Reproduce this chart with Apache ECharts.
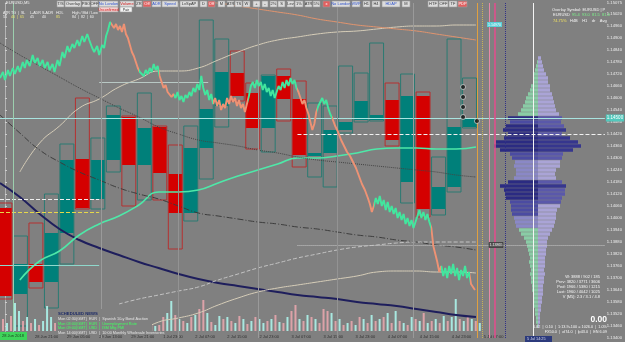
<!DOCTYPE html>
<html>
<head>
<meta charset="utf-8">
<script src="https://cdn.jsdelivr.net/npm/echarts/dist/echarts.min.js"></script>
<style>
html,body{margin:0;padding:0;background:#808080;}
#chart{width:625px;height:342px;}
</style>
</head>
<body>
<div id="chart"></div>
<script>
// higher timeframe overlay candles
var htfOpen  = [1.14050,1.13620,1.13770,1.13680,1.13925,1.14295,1.14095,1.14290,1.14505,1.14265,1.14455,1.14220,1.14025,1.14350,1.14560,1.14725,1.14625,1.14450,1.14710,1.14595,1.14310,1.14325,1.14440,1.14490,1.14490,1.14590,1.14180,1.14610,1.14045,1.14155,1.14455];
var htfClose = [1.13610,1.13770,1.13680,1.13925,1.14290,1.14050,1.14290,1.14515,1.14265,1.14450,1.14225,1.14025,1.14350,1.14545,1.14730,1.14610,1.14450,1.14710,1.14595,1.14315,1.14325,1.14440,1.14480,1.14585,1.14515,1.14390,1.14610,1.14045,1.14155,1.14455,1.14500];
var htfHigh  = [1.14075,1.13910,1.13975,1.14120,1.14370,1.14600,1.14400,1.14560,1.14510,1.14625,1.14460,1.14365,1.14460,1.14990,1.14895,1.14835,1.14675,1.14715,1.14745,1.14685,1.14575,1.14560,1.14760,1.14725,1.14875,1.14675,1.14720,1.14630,1.14305,1.14895,1.14700];
var htfLow   = [1.13595,1.13460,1.13650,1.13550,1.13770,1.14045,1.14045,1.14230,1.14060,1.14090,1.14090,1.13845,1.13985,1.14195,1.14455,1.14585,1.14345,1.14330,1.14485,1.14255,1.14205,1.14155,1.14425,1.14480,1.14485,1.14360,1.14075,1.14005,1.14015,1.14130,1.14450];

// intraday price (bar number, price)
var intraTime = [0,3,5,8,10,13,15,18,20,23,25,27,30,33,35,38,40,43,45,48,50,53,55,58,60,63,65,68,70,73,75,78,80,83,85,88,90,93,95,98,100,103,105,107,109,111,113,115,117,119,121,123,125,127,129,131,133,135,137,139,141,143,145,147,149,151,153,155,157,159,161,163,165,167,169,171,173,175,177,179,181,183,185,187,189,191,193,195,197,199,201,203,205,207,209,211,213,215,217,219,221,223,225,227,229,231,233,235,237,239,241,243,245,247,249,251,253,255,257,259,261,263,265,267,269,271,273,275,277,279,281,283,285,287,289,291,293,295,297,299,301,303,305,307,309,311,313,315,317,319,321,323,325,327,329,331,333,335,338,341,344,347,350,353,356,359,362,365,368,371,373,375,377,379,381,383,385,387,389,391,393,395,397,399,401,403,405,407,409,411,413,415,417,419,421,423,425,427,429,431,433,435,437,439,441,443,445,447,449,451,453,455,457,459,461,463,465,467,469,471,473,475,477,479];
var intraPrice = [1.14700,1.14730,1.14690,1.14740,1.14710,1.14750,1.14720,1.14760,1.14730,1.14780,1.14750,1.14790,1.14760,1.14815,1.14775,1.14800,1.14760,1.14790,1.14750,1.14780,1.14740,1.14770,1.14730,1.14790,1.14760,1.14830,1.14800,1.14860,1.14830,1.14870,1.14850,1.14890,1.14860,1.14910,1.14880,1.14920,1.14890,1.14850,1.14830,1.14860,1.14815,1.14865,1.14850,1.14910,1.14940,1.14980,1.14990,1.14950,1.14970,1.14940,1.14960,1.14930,1.14970,1.14920,1.14900,1.14865,1.14830,1.14810,1.14780,1.14750,1.14730,1.14740,1.14710,1.14740,1.14720,1.14750,1.14730,1.14770,1.14740,1.14760,1.14710,1.14680,1.14650,1.14665,1.14630,1.14640,1.14605,1.14620,1.14600,1.14630,1.14590,1.14610,1.14580,1.14615,1.14600,1.14630,1.14610,1.14650,1.14630,1.14670,1.14640,1.14710,1.14650,1.14615,1.14640,1.14590,1.14620,1.14570,1.14600,1.14560,1.14590,1.14540,1.14570,1.14550,1.14600,1.14570,1.14610,1.14580,1.14600,1.14560,1.14590,1.14550,1.14570,1.14530,1.14570,1.14610,1.14660,1.14680,1.14650,1.14690,1.14660,1.14680,1.14640,1.14670,1.14630,1.14650,1.14610,1.14640,1.14600,1.14630,1.14660,1.14640,1.14680,1.14650,1.14690,1.14660,1.14700,1.14670,1.14690,1.14650,1.14630,1.14600,1.14570,1.14590,1.14550,1.14520,1.14480,1.14440,1.14470,1.14530,1.14560,1.14580,1.14600,1.14570,1.14590,1.14550,1.14520,1.14500,1.14460,1.14430,1.14390,1.14360,1.14330,1.14310,1.14280,1.14250,1.14210,1.14170,1.14140,1.14100,1.14070,1.14030,1.14060,1.14100,1.14070,1.14110,1.14060,1.14090,1.14040,1.14080,1.14030,1.14060,1.14020,1.14050,1.14000,1.14030,1.13990,1.14020,1.13970,1.14000,1.13960,1.13990,1.13950,1.13980,1.14010,1.14040,1.14000,1.14030,1.13990,1.14020,1.13980,1.13950,1.13860,1.13820,1.13780,1.13730,1.13760,1.13710,1.13750,1.13700,1.13760,1.13720,1.13770,1.13710,1.13750,1.13690,1.13740,1.13710,1.13760,1.13700,1.13730,1.13670,1.13660,1.13640];

// indicator lines, sampled at lineTime
var lineTime  = [0,20,40,60,80,100,120,140,160,180,200,220,240,260,280,300,320,340,360,380,400,420,440,460,480];
var maSlow    = [1.14175,1.14105,1.14020,1.13945,1.13890,1.13850,1.13815,1.13780,1.13750,1.13720,1.13695,1.13675,1.13660,1.13645,1.13630,1.13615,1.13605,1.13595,1.13580,1.13570,1.13560,1.13545,1.13530,1.13515,1.13505];
var maFast    = [null,1.13690,1.13785,1.13835,1.13915,1.13970,1.14010,1.14065,1.14130,1.14130,1.14140,1.14175,1.14210,1.14240,1.14270,1.14300,1.14300,1.14310,1.14325,1.14345,1.14350,1.14350,1.14345,1.14345,1.14355];
var bandUpper = [null,1.14230,1.14375,1.14460,1.14550,1.14595,1.14655,1.14695,1.14735,1.14735,1.14750,1.14790,1.14830,1.14865,1.14890,1.14905,1.14920,1.14930,1.14935,1.14945,1.14955,1.14960,1.14960,1.14965,1.14965];
var bandLower = [null,null,null,null,null,null,null,1.13430,1.13480,1.13500,1.13525,1.13565,1.13600,1.13630,1.13650,1.13665,1.13680,1.13695,1.13710,1.13730,1.13735,1.13735,1.13730,1.13730,1.13725];
var maOrange  = [null,null,null,null,null,null,null,null,null,null,1.15085,1.15075,1.15060,1.15045,1.15030,1.15015,1.14995,1.14980,1.14965,1.14955,1.14945,1.14935,1.14920,1.14905,1.14890];
var pivotDash = [1.14515,1.14425,1.14340,1.14280,1.14230,1.14190,1.14150,1.14120,1.14095,1.14060,1.14025,1.14010,1.13995,1.13980,1.13970,1.13955,1.13945,1.13930,1.13915,1.13905,1.13890,1.13880,1.13865,1.13855,1.13840];
var pivotDot  = [1.14875,1.14815,1.14760,1.14705,1.14650,1.14600,1.14550,1.14505,1.14455,1.14420,1.14390,1.14375,1.14360,1.14340,1.14325,1.14305,1.14290,1.14280,1.14270,1.14260,1.14250,1.14240,1.14230,1.14215,1.14205];
var vwapDash  = [null,null,null,null,null,null,1.13570,1.13595,1.13615,1.13635,1.13655,1.13690,1.13720,1.13750,1.13775,1.13800,1.13820,1.13840,1.13855,1.13865,1.13875,1.13880,1.13880,1.13880,1.13880];

// volume profile, 2-pip bins from the top
var profileTop = 1.14800;
var profileStep = 0.0002;
var profSell = [0,1,2,3,4,5,5,7,8,10,12,13,15,17,20,30,28,32,35,30,34,42,44,38,28,26,23,24,22,22,24,30,38,34,33,32,28,27,27,26,24,23,22,19,17,14,12,11,10,9,8,9,8,7,8,7,7,6,6,5,5,5,4,3,3,2,2,1];
var profBuy  = [3,4,5,6,8,10,10,12,12,14,15,16,17,18,21,24,23,26,28,24,32,40,43,35,25,24,22,22,18,17,18,24,28,27,27,24,23,22,19,18,18,17,16,14,12,10,9,9,8,8,7,7,7,6,7,6,6,5,5,5,4,4,3,3,2,2,2,1];

// tick volume, + up bars, - down bars
var volumes = [-12,8,-15,28,20,-10,14,-8,12,-6,10,25,14,-8,6,
 -6,5,-7,6,-5,7,-6,5,-8,6,-5,7,-6,8,-5,6,-7,5,-6,8,-5,6,-7,5,-6,
 -14,18,30,-16,12,-10,8,-14,16,-22,-31,18,-9,6,15,-12,14,-10,8,-15,12,-7,10,-14,12,8,-10,12,-16,9,
 -8,14,-20,-26,12,-10,16,-14,12,-8,-22,-20,18,-10,12,-6,8,-10,6,-14,12,-8,16,-10,12,-14,18,-8,20,-10,
 8,-6,14,-12,10,-18,8,-10,12,-8,15,-10,14,32,-12,10,-14,12,-10,8];
var timeLabels = ['28 Jun 2018','28 Jun 21:00','29 Jun 05:00','29 Jun 13:00','29 Jun 21:00','1 Jul 23:00','2 Jul 07:00','2 Jul 15:00','2 Jul 23:00','3 Jul 07:00','3 Jul 15:00','3 Jul 23:00','4 Jul 07:00','4 Jul 15:00','4 Jul 23:00','5 Jul 07:00'];

// trade markers
var markTime  = [467,467,467,467,481];
var markPrice = [1.14655,1.14605,1.14555,1.14505,1.14485];

var lastPrice = 1.14500;

var TEAL = '#00807a', TEAL_LINE = '#2a7a72', RED = '#d40000', RED_LINE = '#b53030';
var GREEN = '#42e69e', SALMON = '#ee9274';
var FONT = 'Liberation Sans';

var chart = echarts.init(document.getElementById('chart'));

function pairs(xs, ys) {
  return xs.map(function (x, i) { return [x, ys[i]]; });
}
function lineSeries(name, ys, color, width, type) {
  return {
    name: name, type: 'line', xAxisIndex: 1, yAxisIndex: 0, data: pairs(lineTime, ys),
    smooth: true, showSymbol: false, connectNulls: false, z: 3,
    lineStyle: { color: color, width: width, type: type || 'solid' }
  };
}

var slots = [];
for (var s = 0; s < 152; s++) slots.push(s % 8 === 0 && s > 0 ? (timeLabels[s / 8] || '') : '');

var profileData = [];
profSell.forEach(function (v, k) {
  profileData.push([-v, profileTop - k * profileStep, k, 0]);
  profileData.push([profBuy[k], profileTop - k * profileStep, k, 1]);
});

function profColor(v, k, side) {
  var a = Math.abs(v);
  if (side === 0) {
    if (a >= 30) return '#2b2b82';
    if (a >= 26) return '#4b4ba2';
    if (k < 15 || k > 42) return '#8acca6';
    return '#8a88c6';
  }
  if (a >= 28) return '#36368e';
  if (a >= 23) return '#5a58aa';
  return '#aaa4d6';
}

var hLevels = [
  [[0, 1.14500], [610, 1.14500], '#a8e4e0', 'solid'],
  [[300, 1.14420], [610, 1.14420], '#f2f2f2', 'dashed'],
  [[300, 1.13865], [610, 1.13865], '#c8c8c8', 'dotted'],
  [[0, 1.14030], [100, 1.14030], '#e6d84a', 'dashed'],
  [[0, 1.14095], [100, 1.14095], '#eeeeee', 'dashed'],
  [[0, 1.13765], [100, 1.13765], '#8fd8cc', 'solid'],
  [[100, 1.14680], [210, 1.14680], '#b8c8c4', 'solid']
];
var vLevels = [
  [13, '#9ccfae', 'solid', 1], [102, '#9a9a9a', 'solid', 1], [180, '#939393', 'solid', 1],
  [260, '#9a9a9a', 'solid', 1], [340, '#939393', 'solid', 1], [417, '#9a9a9a', 'solid', 1],
  [481, '#e0a040', 'solid', 1], [486, '#c9b452', 'dotted', 1], [493, '#e889a8', 'solid', 1],
  [499, '#df4f8c', 'solid', 1.6], [510, '#303088', 'dotted', 1], [538, '#f4f4f4', 'solid', 1]
];

var markLines = [];
hLevels.forEach(function (h) {
  markLines.push([{ coord: h[0], lineStyle: { color: h[2], type: h[3], width: 1 } }, { coord: h[1] }]);
});
vLevels.forEach(function (v) {
  markLines.push({ xAxis: v[0], lineStyle: { color: v[1], type: v[2], width: v[3] } });
});
markLines[0][0].label = {
  show: true, position: 'end', formatter: lastPrice.toFixed(5), color: '#ffffff',
  backgroundColor: '#52c8bc', fontSize: 4.5, padding: [1, 1], distance: 1, fontFamily: FONT
};

// toolbar buttons [x, width, text, text colour, fill]
var buttons = [
  [57,7,'T/S','#333','#dcdcdc'],[65,16,'Overlay','#333','#dcdcdc'],[82,8,'PBO','#333','#dcdcdc'],[91,7,'OFF','#333','#dcdcdc'],
  [99,19,'No London','#3355cc','#dcdcdc'],[120,14,'Volume','#d02020','#dcdcdc'],[136,6,'ZR','#333','#dcdcdc'],[143,8,'Off','#fff','#e26060'],
  [152,9,'ADR','#3355cc','#dcdcdc'],[162,16,'Speed','#3355cc','#dcdcdc'],[180,18,'LvSpAP','#333','#dcdcdc'],[200,7,'D','#333','#dcdcdc'],
  [208,7,'Off','#fff','#e26060'],[218,7,'M','#333','#dcdcdc'],[227,7,'ATR','#333','#dcdcdc'],[235,7,'TS','#333','#dcdcdc'],
  [243,7,'W','#333','#dcdcdc'],[253,7,'+','#333','#dcdcdc'],[262,6,'-','#333','#dcdcdc'],[270,7,'2%','#333','#dcdcdc'],
  [278,7,'S','#333','#dcdcdc'],[287,7,'Lev','#333','#dcdcdc'],[295,8,'1%','#333','#dcdcdc'],[305,7,'ATR','#333','#dcdcdc'],
  [313,7,'5%','#333','#dcdcdc'],[323,7,'x','#fff','#e26060'],[332,18,'No London','#3355cc','#dcdcdc'],[352,8,'VWP','#3355cc','#dcdcdc'],
  [363,7,'H1','#333','#dcdcdc'],[372,8,'H4','#333','#dcdcdc'],[382,18,'HDAP','#3355cc','#dcdcdc'],[402,8,'M','#333','#dcdcdc'],
  [428,10,'HTF','#333','#dcdcdc'],[439,9,'OFF','#333','#dcdcdc'],[449,8,'TF','#333','#dcdcdc'],[458,9,'PDP','#fff','#e26060']
];
var graphics = [];
buttons.forEach(function (b) {
  graphics.push({ type: 'rect', shape: { x: b[0], y: 1, width: b[1], height: 6 },
    style: { fill: b[4], stroke: '#9c9c9c', lineWidth: 0.6 }, z: 50 });
  graphics.push({ type: 'text', x: b[0] + b[1] / 2, y: 4, z: 51,
    style: { text: b[2], fill: b[3], fontSize: 4, fontFamily: FONT, align: 'center', verticalAlign: 'middle' } });
});
graphics.push({ type: 'rect', shape: { x: 99, y: 7, width: 19, height: 5 }, style: { fill: '#f4d0d0', stroke: '#9c9c9c', lineWidth: 0.6 }, z: 50 });
graphics.push({ type: 'text', x: 108.5, y: 9.6, z: 51, style: { text: 'Unconfirmed', fill: '#d02020', fontSize: 3.6, fontFamily: FONT, align: 'center', verticalAlign: 'middle' } });
graphics.push({ type: 'rect', shape: { x: 120, y: 7, width: 12, height: 5 }, style: { fill: '#f4f4f4', stroke: '#9c9c9c', lineWidth: 0.6 }, z: 50 });
graphics.push({ type: 'text', x: 126, y: 9.6, z: 51, style: { text: 'Pair', fill: '#333', fontSize: 3.6, fontFamily: FONT, align: 'center', verticalAlign: 'middle' } });

function txt(x, y, t, color, size, align, weight) {
  graphics.push({ type: 'text', x: x, y: y, z: 60,
    style: { text: t, fill: color, fontSize: size || 4, fontFamily: FONT, align: align || 'left',
      verticalAlign: 'middle', fontWeight: weight || 'normal' } });
}
txt(6, 3, 'EURUSD,M5', '#f0f0f0', 4);
txt(3, 13, 'ATR', '#f0f0f0', 3.6); txt(11, 13, 'TG  |  SL', '#f0f0f0', 3.6); txt(30, 13, 'L-ADR', '#f0f0f0', 3.6);
txt(42, 13, 'S-ADR', '#f0f0f0', 3.6); txt(56, 13, 'HOL', '#f0f0f0', 3.6); txt(72, 13, 'High / Mid / Low', '#f0f0f0', 3.6);
txt(3, 17, '55', '#f0f0f0', 3.6); txt(11, 17, '40  |  65', '#e8e070', 3.6); txt(30, 17, '45', '#f0f0f0', 3.6);
txt(42, 17, '40', '#f0f0f0', 3.6); txt(56, 17, '85', '#e8e070', 3.6); txt(72, 17, '84  |  82  |  60', '#f0f0f0', 3.6);

txt(552, 10, 'Overlay Symbol: EURUSD | P', '#f4f4f4', 4);
txt(553, 15, 'EURUSD', '#f4f4f4', 4); txt(572, 15, '95.4  93.0  81.5  81.4', '#7cf08a', 4);
txt(553, 21, '74.75%', '#f0e060', 4); txt(570, 21, 'H4B    H1    dr    Avg', '#f4f4f4', 4);

txt(600, 277, 'W: 3888 / 902 / 185', '#f4f4f4', 4, 'right');
txt(600, 282, 'Prev: 3820 / 3771 / 3606', '#f4f4f4', 4, 'right');
txt(600, 287, 'Ped: 1966 / 5380 / 1215', '#f4f4f4', 4, 'right');
txt(600, 292, 'Last: 1960 / 4042 / 1025', '#f4f4f4', 4, 'right');
txt(600, 297, 'V [M5]: 2.3 / 3.1 / 4.8', '#f4f4f4', 4, 'right');
txt(607, 320, '0.00', '#ffffff', 8.5, 'right', 'bold');
txt(607, 327, '0.02  |  0.10  |  1:13.9+100 = 1026.0  |  1.0%', '#f4f4f4', 3.8, 'right');
txt(607, 332, 'FX50.0  |  ol74.0  |  lp43.0  |  EN 6.09', '#f4f4f4', 3.8, 'right');

// scheduled news panel
graphics.push({ type: 'rect', shape: { x: 56, y: 309, width: 96, height: 26 }, style: { fill: '#808080' }, z: 40 });
txt(58, 314, 'SCHEDULED NEWS', '#1c2a66', 4.2, 'left', 'bold');
txt(58, 319, 'Mon 02:30(GMT)  EUR  |  Spanish 10-y Bond Auction', '#e4e4e4', 3.8);
txt(58, 323.5, 'Mon 03:00(GMT)  EUR  |  Unemployment Rate', '#40ff60', 3.8);
txt(58, 328, 'Mon 09:00(GMT)  USD  |  ISM Mfg PMI', '#40ff60', 3.8);
txt(58, 332.5, 'Mon 14:00(GMT)  USD  |  10:00 Monthly Wholesale Inventories', '#e4e4e4', 3.8);

graphics.push({ type: 'rect', shape: { x: 0, y: 332, width: 27, height: 8 }, style: { fill: '#3ed45a' }, z: 45 });
txt(2, 336, timeLabels[0], '#1e3a1e', 4);
graphics.push({ type: 'rect', shape: { x: 525, y: 336, width: 27, height: 6 }, style: { fill: '#2c3a7c' }, z: 45 });
txt(527, 339, '5 Jul 14:25', '#d8dcf0', 3.8);
graphics.push({ type: 'rect', shape: { x: 487, y: 22, width: 15, height: 5 }, style: { fill: '#5cd0d8' }, z: 45 });
txt(494.5, 24.6, '1.14970', '#ffffff', 3.6, 'center');
graphics.push({ type: 'rect', shape: { x: 489, y: 242.5, width: 14, height: 5 }, style: { fill: '#555555', stroke: '#222', lineWidth: 0.5 }, z: 45 });
txt(496, 245, '1.13865', '#f0f0f0', 3.6, 'center');

var option = {
  backgroundColor: '#808080',
  animation: false,
  textStyle: { fontFamily: FONT },
  grid: [
    { left: 0, right: 15, top: 3, bottom: 4 },
    { left: 488, right: 15, top: 3, bottom: 4 },
    { left: 0, right: 15, top: 290, bottom: 11 }
  ],
  xAxis: [
    { type: 'value', gridIndex: 0, min: -0.32, max: 38.74, show: false },
    { type: 'value', gridIndex: 0, min: 0, max: 610, show: false },
    { type: 'value', gridIndex: 1, min: -50, max: 72, show: false },
    { type: 'category', gridIndex: 2, data: slots, boundaryGap: true,
      axisLine: { show: false }, axisTick: { show: false },
      axisLabel: { interval: 0, fontSize: 4, color: '#2e2e2e', margin: 4, fontFamily: FONT, align: 'left' } }
  ],
  yAxis: [
    { type: 'value', gridIndex: 0, position: 'right', min: 1.13400, max: 1.15075, interval: 0.0006,
      axisLine: { show: true, lineStyle: { color: '#b4b4b4' } },
      axisTick: { show: true, length: 2, lineStyle: { color: '#d0d0d0' } },
      splitLine: { show: false },
      axisLabel: { fontSize: 4.2, color: '#ececec', margin: 2, fontFamily: FONT,
        formatter: function (v) { return v.toFixed(5); } } },
    { type: 'value', gridIndex: 1, min: 1.13400, max: 1.15075, show: false },
    { type: 'value', gridIndex: 2, min: 0, max: 41, show: false }
  ],
  visualMap: [{
    type: 'piecewise', show: false, seriesIndex: 1, dimension: 0,
    pieces: [
      { gte: 0, lt: 112, color: GREEN }, { gte: 112, lt: 140, color: SALMON },
      { gte: 140, lt: 160, color: GREEN }, { gte: 160, lt: 175, color: SALMON },
      { gte: 175, lt: 215, color: GREEN }, { gte: 215, lt: 250, color: SALMON },
      { gte: 250, lt: 300, color: GREEN }, { gte: 300, lt: 320, color: SALMON },
      { gte: 320, lt: 335, color: GREEN }, { gte: 335, lt: 377, color: SALMON },
      { gte: 377, lt: 435, color: GREEN }, { gte: 435, lt: 445, color: SALMON },
      { gte: 445, lt: 474, color: GREEN }, { gte: 474, lte: 610, color: SALMON }
    ]
  }],
  series: [
    {
      name: 'HTF', type: 'custom', xAxisIndex: 0, yAxisIndex: 0, z: 2,
      data: htfOpen.map(function (o, i) { return [i, o, htfClose[i], htfLow[i], htfHigh[i]]; }),
      renderItem: function (params, api) {
        var i = api.value(0), o = api.value(1), c = api.value(2), l = api.value(3), h = api.value(4);
        var w = api.size([1, 0])[0] * 0.9;
        var pH = api.coord([i, h]), pL = api.coord([i, l]), pO = api.coord([i, o]), pC = api.coord([i, c]);
        var up = c >= o;
        return { type: 'group', children: [
          { type: 'rect', shape: { x: pH[0] - w / 2, y: Math.min(pO[1], pC[1]), width: w, height: Math.max(1, Math.abs(pO[1] - pC[1])) },
            style: { fill: up ? TEAL : RED } },
          { type: 'rect', shape: { x: pH[0] - w / 2, y: pH[1], width: w, height: pL[1] - pH[1] },
            style: { fill: 'none', stroke: up ? TEAL_LINE : RED_LINE, lineWidth: 1 } }
        ] };
      }
    },
    {
      name: 'Price', type: 'line', xAxisIndex: 1, yAxisIndex: 0, z: 6,
      data: pairs(intraTime, intraPrice), showSymbol: false,
      lineStyle: { width: 1.9 }
    },
    lineSeries('MA slow', maSlow, '#1e1e5c', 2),
    lineSeries('MA fast', maFast, '#4ee8a8', 1.6),
    lineSeries('Band upper', bandUpper, '#d6cdb8', 1),
    lineSeries('Band lower', bandLower, '#d6cdb8', 1),
    lineSeries('MA orange', maOrange, '#e0946e', 1),
    lineSeries('Pivot', pivotDash, '#3c3c3c', 1, [6, 2, 1, 2]),
    lineSeries('Pivot 2', pivotDot, '#444444', 1, 'dotted'),
    lineSeries('VWAP', vwapDash, '#c4c4c4', 1, 'dashed'),
    {
      name: 'Levels', type: 'line', xAxisIndex: 1, yAxisIndex: 0, data: [], z: 1,
      markLine: { symbol: 'none', silent: true, label: { show: false }, data: markLines }
    },
    {
      name: 'Trades', type: 'scatter', xAxisIndex: 1, yAxisIndex: 0, z: 8,
      data: pairs(markTime, markPrice), symbolSize: 5,
      itemStyle: { color: '#141414', borderColor: '#f0f0f0', borderWidth: 0.8 }
    },
    {
      name: 'Profile', type: 'custom', xAxisIndex: 2, yAxisIndex: 1, z: 4,
      data: profileData,
      renderItem: function (params, api) {
        var v = api.value(0), p = api.value(1), k = api.value(2), side = api.value(3);
        var a = api.coord([0, p]), b = api.coord([v, p]);
        var hgt = api.size([0, profileStep])[1] - 0.5;
        return { type: 'rect',
          shape: { x: Math.min(a[0], b[0]), y: a[1] - hgt / 2, width: Math.abs(b[0] - a[0]), height: hgt },
          style: { fill: profColor(v, k, side) } };
      }
    },
    {
      name: 'Volume', type: 'bar', xAxisIndex: 3, yAxisIndex: 2, barWidth: 2, z: 3,
      data: volumes.map(function (v) {
        return { value: Math.abs(v), itemStyle: { color: v >= 0 ? '#a8e8e0' : '#dca2a8' } };
      })
    }
  ],
  graphic: graphics
};

chart.setOption(option);
</script>
</body>
</html>
